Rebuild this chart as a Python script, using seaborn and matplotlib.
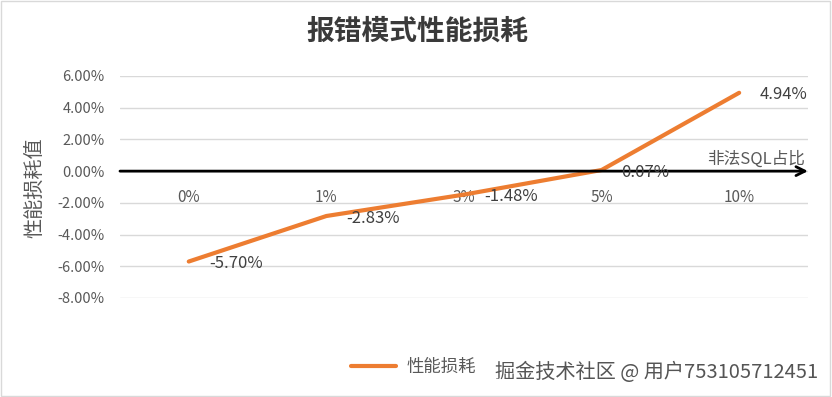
import seaborn as sns
import matplotlib.pyplot as plt
import matplotlib.transforms as mtransforms
from matplotlib.patches import Rectangle
import pandas as pd

# data
categories = ["0%", "1%", "3%", "5%", "10%"]
loss = [-0.0570, -0.0283, -0.0148, 0.0007, 0.0494]
series_name = "性能损耗"

sns.set_style("white")
plt.rcParams['font.family'] = ['Noto Sans CJK SC', 'DejaVu Sans']

df = pd.DataFrame({"pos": range(len(categories)), "val": loss})

fig = plt.figure(figsize=(8.32, 3.97), dpi=100)
ax = fig.add_axes([0.1442, 0.2494, 0.8269, 0.5592])

sns.lineplot(data=df, x="pos", y="val", color="#ED7D31", linewidth=3,
             label=series_name, ax=ax, legend=False)

ax.set_xlim(-0.5, len(categories) - 0.5)
ax.set_ylim(-0.08, 0.06)
ax.set_yticks([-0.08, -0.06, -0.04, -0.02, 0, 0.02, 0.04, 0.06])
ax.set_yticklabels([f"{v*100:.2f}%" for v in ax.get_yticks()],
                   fontsize=10.5, color="#595959")
ax.grid(axis="y", color="#d9d9d9", linewidth=1)
ax.set_axisbelow(True)
for s in ["top", "right", "left"]:
    ax.spines[s].set_visible(False)
ax.spines["bottom"].set_position(("data", 0))
ax.spines["bottom"].set_visible(False)
ax.set_xticks(range(len(categories)))
ax.set_xticklabels(categories, fontsize=11, color="#595959")
ax.tick_params(axis="x", length=0, pad=13)
ax.tick_params(axis="y", length=0, pad=11)
ax.set_xlabel("")
ax.set_ylabel("性能损耗值", fontsize=14.5, color="#595959")
ax.yaxis.set_label_coords(-0.108, 0.495)

# x axis arrow
ax.annotate("", xy=(len(categories) - 0.5, 0), xytext=(-0.5, 0),
            arrowprops=dict(arrowstyle="->", color="black", lw=2,
                            mutation_scale=16, shrinkA=0, shrinkB=0),
            annotation_clip=False)
trans = mtransforms.blended_transform_factory(ax.transAxes, ax.transData)
ax.text(0.996, 0.0075, "非法SQL占比", transform=trans, ha="right",
        va="center", fontsize=12, color="#595959")

# data labels
for i, v in enumerate(loss):
    ax.annotate(f"{v*100:.2f}%", xy=(i, v), xytext=(20, -2),
                textcoords="offset pixels",
                ha="left", va="center", fontsize=12, color="#404040")

fig.text(0.501, 0.919, "报错模式性能损耗", ha="center", va="center",
         fontsize=20, fontweight="bold", color="#3a3a3a")

handles = [plt.Line2D([], [], color="#ED7D31", lw=3)]
fig.legend(handles, [series_name], loc="center", bbox_to_anchor=(0.497, 0.076),
           frameon=False, fontsize=12.5, handlelength=2.6, handletextpad=0.6,
           labelcolor="#595959")

fig.text(0.983, 0.063, "掘金技术社区 @ 用户753105712451", ha="right", va="center",
         fontsize=14.5, color="#555555")

fig.patches.append(Rectangle((0.001, 0.002), 0.997, 0.995, transform=fig.transFigure,
                             fill=False, edgecolor="#d9d9d9", lw=1))

fig.savefig("out.png", dpi=100)
